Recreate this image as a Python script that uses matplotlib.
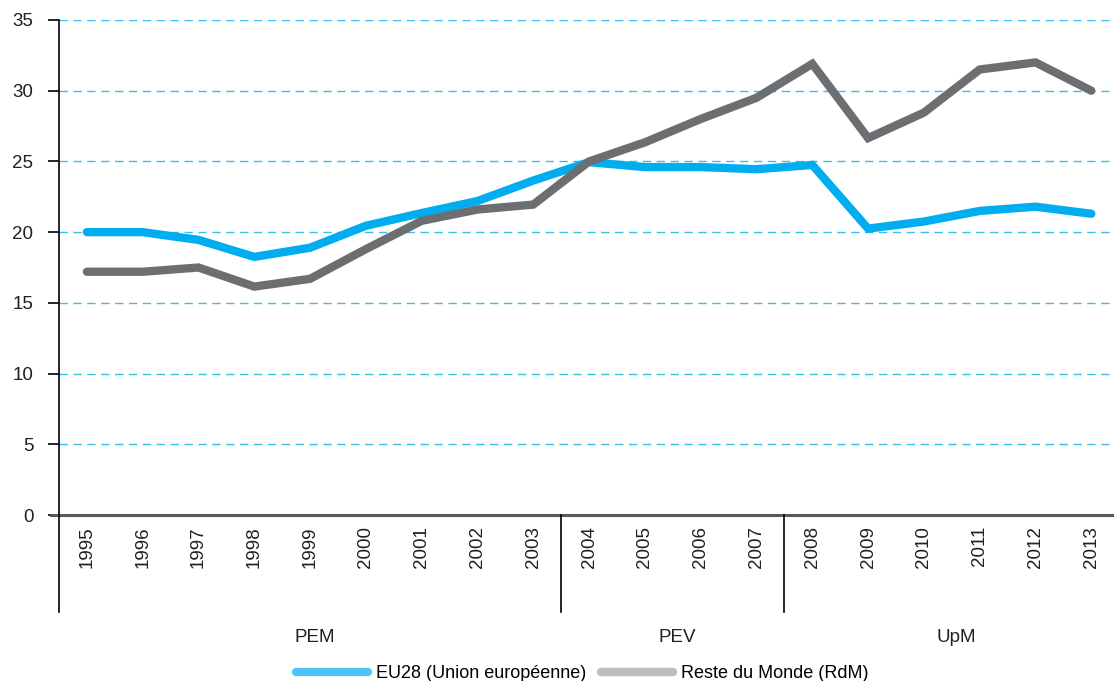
import matplotlib
matplotlib.use('Agg')
import matplotlib.pyplot as plt
import matplotlib.transforms as mtransforms
from matplotlib.lines import Line2D

plt.rcParams['font.family'] = ['Liberation Sans', 'DejaVu Sans']

# Data
years = ['1995', '1996', '1997', '1998', '1999', '2000', '2001', '2002', '2003', '2004',
         '2005', '2006', '2007', '2008', '2009', '2010', '2011', '2012', '2013']
eu28 = [20.0, 20.0, 19.45, 18.25, 18.9, 20.45, 21.35, 22.2, 23.65, 24.95,
        24.6, 24.6, 24.45, 24.75, 20.25, 20.75, 21.5, 21.8, 21.3]
rdm = [17.2, 17.2, 17.5, 16.15, 16.7, 18.8, 20.8, 21.6, 21.95, 25.0,
       26.35, 28.0, 29.5, 31.9, 26.65, 28.45, 31.5, 32.0, 30.0]
groups = ['PEM', 'PEV', 'UpM']
group_sizes = [9, 4, 6]
series_names = ['EU28 (Union européenne)', 'Reste du Monde (RdM)']

blue = '#00AEEF'
grey = '#6D6E71'
text_col = '#231F20'

W, H = 1114, 681
fig = plt.figure(figsize=(W / 100, H / 100), dpi=100)
ax = fig.add_axes([59 / W, 1 - 515 / H, 1 - 59 / W, (515 - 20) / H])

x = list(range(len(years)))
ax.plot(x, eu28, color=blue, lw=6, solid_capstyle='round', solid_joinstyle='miter', zorder=3)
ax.plot(x, rdm, color=grey, lw=6, solid_capstyle='round', solid_joinstyle='miter', zorder=4)

ax.set_xlim(-0.5, -0.5 + (W - 59) / 55.8)
ax.set_ylim(0, 35)
ax.set_yticks(range(0, 40, 5))
ax.tick_params(axis='y', length=8, width=1.2, color='black', pad=10.5,
               labelsize=13.5, labelcolor=text_col)
ax.set_xticks(x)
ax.set_xticklabels(years, rotation=90, fontsize=13.5, color=text_col)
ax.tick_params(axis='x', length=0, pad=8)

for s in ax.spines.values():
    s.set_visible(False)

ax.yaxis.grid(True, color='#3DBDEB', linestyle=(0, (6, 4)), linewidth=1)
ax.set_axisbelow(True)

# zero line and vertical axis
ax.axhline(0, color='#58595B', lw=2.2, xmin=-8 / 1055, xmax=1, clip_on=False, zorder=2)
bottom = (515 - 612) / 495
ax.plot([0, 0], [1, bottom], transform=ax.transAxes, color='black', lw=1.2, clip_on=False)

# group separators and labels
trans = mtransforms.blended_transform_factory(ax.transData, ax.transAxes)
start = -0.5
for name, n in zip(groups, group_sizes):
    end = start + n
    if start > -0.5:
        ax.plot([start, start], [0, bottom], transform=trans, color='black', lw=1.2, clip_on=False)
    ax.text((start + end) / 2 + 0.08, (515 - 637) / 495, name, transform=trans,
            ha='center', va='center', fontsize=13.5, color=text_col)
    start = end

handles = [Line2D([], [], color='#4DC6F4', lw=6, solid_capstyle='round'),
           Line2D([], [], color='#BCBDC0', lw=6, solid_capstyle='round')]
fig.legend(handles, series_names, loc='center', bbox_to_anchor=(582 / W, 1 - 674 / H),
           ncol=2, frameon=False, fontsize=13, handlelength=4.0, handletextpad=0.45,
           columnspacing=0.8, borderpad=0)

fig.savefig('out.png', dpi=100)
